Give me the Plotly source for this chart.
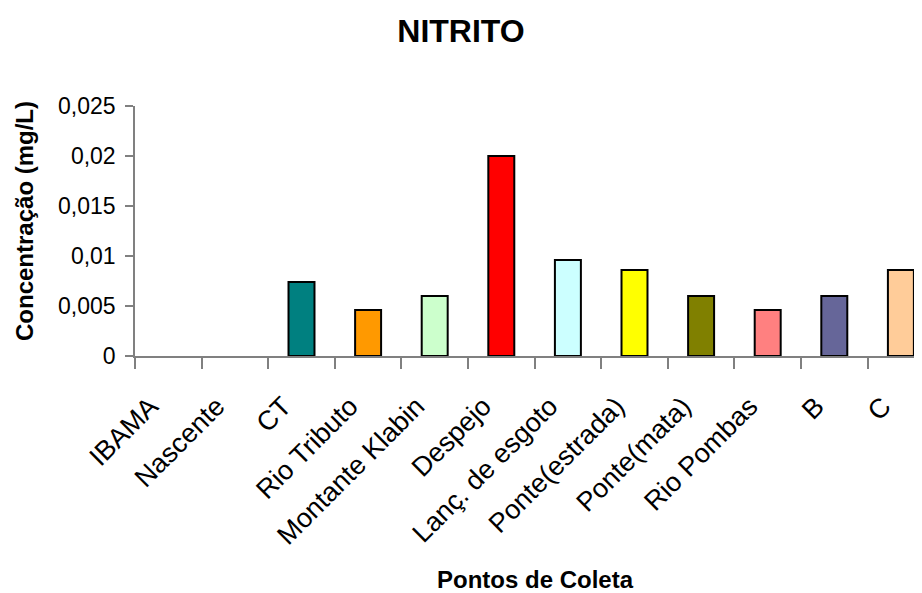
import plotly.graph_objects as go

categories = ["IBAMA", "Nascente", "CT", "Rio Tributo", "Montante Klabin", "Despejo",
              "Lanç. de esgoto", "Ponte(estrada)", "Ponte(mata)", "Rio Pombas", "B", "C"]
values = [0, 0, 0.0074, 0.0046, 0.006, 0.02, 0.0096, 0.0086, 0.006, 0.0046, 0.006, 0.0086]
colors = ["#FFFFFF", "#FFFFFF", "#008080", "#FF9900", "#CCFFCC", "#FF0000",
          "#CCFFFF", "#FFFF00", "#808000", "#FF8080", "#666699", "#FFCC99"]
ytick_vals = [0, 0.005, 0.01, 0.015, 0.02, 0.025]
ytick_text = ["0", "0,005", "0,01", "0,015", "0,02", "0,025"]

FONT = "Arial, Liberation Sans, sans-serif"
OFF = 8  # page body margin offset

line_widths = [2 if v > 0 else 0 for v in values]

fig = go.Figure()
fig.add_trace(go.Bar(
    x=categories, y=values,
    marker=dict(color=colors, line=dict(color="black", width=line_widths)),
    width=0.39,
))

plot_left, plot_top, plot_h = 135, 106, 250
plot_w = 922 + OFF - plot_left

fig.update_layout(
    width=922, height=593,
    margin=dict(l=plot_left - OFF, r=0, t=plot_top - OFF, b=593 - (plot_top - OFF) - plot_h),
    paper_bgcolor="white", plot_bgcolor="white",
    showlegend=False,
    title=dict(text="<b>NITRITO</b>", x=(461 - OFF) / 922, xref="container", xanchor="center",
               y=1 - (31 - OFF) / 593, yref="container", yanchor="middle",
               font=dict(family=FONT, size=32, color="black")),
    xaxis=dict(
        type="category", range=[-0.5, -0.5 + plot_w / 66.6],
        tickson="boundaries", ticks="outside", ticklen=11, tickwidth=1.5, tickcolor="#808080",
        showline=True, linecolor="#808080", linewidth=1.5,
        showgrid=False, tickangle=-45,
        ticklabelstandoff=22, ticklabelshift=-18,
        tickfont=dict(family=FONT, size=27, color="black"),
    ),
    yaxis=dict(
        range=[0, 0.025], tickvals=ytick_vals, ticktext=ytick_text,
        ticks="outside", ticklen=8, tickwidth=1.5, tickcolor="#808080",
        showline=True, linecolor="#808080", linewidth=1.5,
        showgrid=False, zeroline=False, ticklabelstandoff=5,
        tickfont=dict(family=FONT, size=23, color="black"),
    ),
    annotations=[
        dict(text="<b>Pontos de Coleta</b>", xref="paper", yref="paper",
             x=(535 - plot_left) / plot_w, y=(plot_top + plot_h - 579) / plot_h,
             xanchor="center", yanchor="middle",
             showarrow=False, font=dict(family=FONT, size=24, color="black")),
        dict(text="<b>Concentração (mg/L)</b>", xref="paper", yref="paper",
             x=(24 - plot_left) / plot_w, y=(plot_top + plot_h - 221) / plot_h,
             xanchor="center", yanchor="middle",
             textangle=-90, showarrow=False, font=dict(family=FONT, size=24, color="black")),
    ],
)

fig.write_html("out.html")
